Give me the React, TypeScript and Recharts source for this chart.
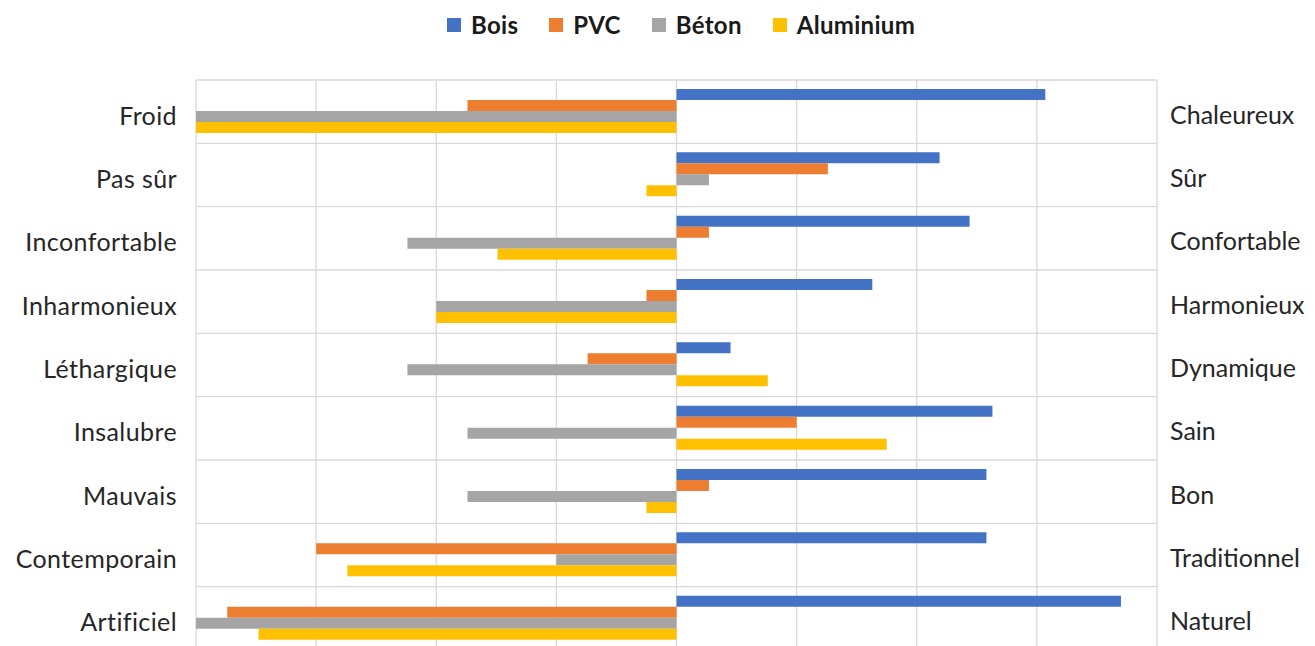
import React from 'react';
import { BarChart, Bar, XAxis, YAxis, CartesianGrid } from 'recharts';

const leftLabels = ['Froid', 'Pas sûr', 'Inconfortable', 'Inharmonieux', 'Léthargique', 'Insalubre', 'Mauvais', 'Contemporain', 'Artificiel'];
const rightLabels = ['Chaleureux', 'Sûr', 'Confortable', 'Harmonieux', 'Dynamique', 'Sain', 'Bon', 'Traditionnel', 'Naturel'];
const bois = [3.07, 2.19, 2.44, 1.63, 0.45, 2.63, 2.58, 2.58, 3.7];
const pvc = [-1.74, 1.26, 0.27, -0.25, -0.74, 1.0, 0.27, -3.0, -3.74];
const beton = [-4.0, 0.27, -2.24, -2.0, -2.24, -1.74, -1.74, -1.0, -4.0];
const aluminium = [-4.0, -0.25, -1.49, -2.0, 0.76, 1.75, -0.25, -2.74, -3.48];
const xTicks = [-4, -3, -2, -1, 0, 1, 2, 3, 4];

const seriesNames = ['Bois', 'PVC', 'Béton', 'Aluminium'];
const seriesColors = ['#4472C4', '#ED7D31', '#A5A5A5', '#FFC000'];

const data = leftLabels.map((l, i) => ({
  left: l,
  right: rightLabels[i],
  Bois: bois[i],
  PVC: pvc[i],
  'Béton': beton[i],
  Aluminium: aluminium[i],
}));

const FONT = 'Lato, "Open Sans", sans-serif';

function Legend() {
  return (
    <div style={{ position: 'absolute', top: 10, left: 447, display: 'flex', fontFamily: FONT, fontWeight: 700, fontSize: 24, lineHeight: '30px', color: '#1a1a1a', letterSpacing: 0.3 }}>
      {seriesNames.map((n, i) => (
        <div key={n} style={{ display: 'flex', alignItems: 'center', marginRight: i < 3 ? 31 : 0 }}>
          <div style={{ width: 14, height: 14, background: seriesColors[i], marginRight: 10 }} />
          <span>{n}</span>
        </div>
      ))}
    </div>
  );
}

export default function App() {
  const n = data.length;
  return (
    <div style={{ position: 'absolute', left: 0, top: 0, width: 1315, height: 646, overflow: 'hidden', background: '#fff' }}>
      <Legend />
      <BarChart
        width={1315}
        height={656}
        data={data}
        layout="vertical"
        margin={{ top: 80, right: 0, bottom: 6, left: 0 }}
        barCategoryGap={9}
        barGap={0}
      >
        <CartesianGrid
          stroke="#D9D9D9"
          strokeWidth={1.3}
          horizontalCoordinatesGenerator={({ offset }: any) =>
            Array.from({ length: n + 1 }, (_, i) => offset.top + (i * offset.height) / n)
          }
        />
        <XAxis type="number" domain={[-4, 4]} ticks={xTicks} hide />
        <YAxis
          type="category"
          dataKey="left"
          width={196}
          axisLine={false}
          tickLine={false}
          tickSize={0}
          tickMargin={19}
          tick={{ fill: '#262626', fontSize: 25, fontFamily: FONT, dy: 4, letterSpacing: 0.4 }}
          interval={0}
        />
        <YAxis
          yAxisId="right"
          type="category"
          dataKey="right"
          orientation="right"
          width={158}
          axisLine={false}
          tickLine={false}
          tickSize={0}
          tickMargin={13}
          tick={{ fill: '#262626', fontSize: 25, fontFamily: FONT, textAnchor: 'start', dy: 3 }}
          interval={0}
        />
        {seriesNames.map((s, i) => (
          <Bar key={s} dataKey={s} fill={seriesColors[i]} isAnimationActive={false} />
        ))}
      </BarChart>
    </div>
  );
}
